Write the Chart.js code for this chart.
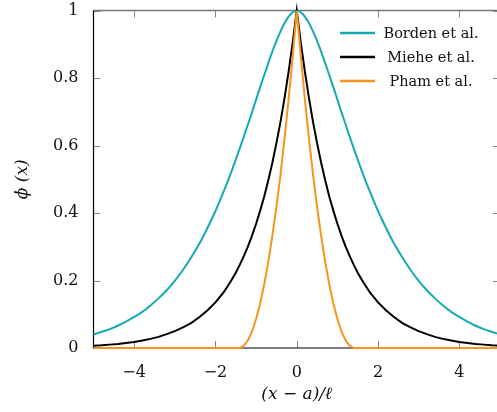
<!DOCTYPE html>
<html>
<head>
<meta charset="utf-8">
<script src="https://cdn.jsdelivr.net/npm/chart.js@4.4.1/dist/chart.umd.min.js"></script>
<style>
  html, body { margin: 0; padding: 0; overflow: hidden; background: #fff; }
  canvas { display: block; }
</style>
</head>
<body>
<canvas id="phi-chart" width="504" height="412"></canvas>
<script>
// x positions, (x - a)/l: every 0.2 in the tails, every 0.1 in the middle
const xValues = [-5, -4.8, -4.6, -4.4, -4.2, -4, -3.8, -3.6, -3.4, -3.2, -3, -2.8, -2.6, -2.4, -2.2,
  -2, -1.9, -1.8, -1.7, -1.6, -1.5, -1.4, -1.3, -1.2, -1.1, -1, -0.9, -0.8, -0.7, -0.6, -0.5, -0.4, -0.3, -0.2, -0.1,
  0,
  0.1, 0.2, 0.3, 0.4, 0.5, 0.6, 0.7, 0.8, 0.9, 1, 1.1, 1.2, 1.3, 1.4, 1.5, 1.6, 1.7, 1.8, 1.9, 2,
  2.2, 2.4, 2.6, 2.8, 3, 3.2, 3.4, 3.6, 3.8, 4, 4.2, 4.4, 4.6, 4.8, 5];

const bordenValues = [0.040, 0.048, 0.056, 0.066, 0.078, 0.092, 0.107, 0.126, 0.147, 0.171, 0.199, 0.231, 0.268, 0.308, 0.355,
  0.406, 0.434, 0.463, 0.493, 0.525, 0.558, 0.592, 0.627, 0.663, 0.699, 0.736, 0.773, 0.809, 0.844, 0.878, 0.910, 0.938, 0.963, 0.982, 0.995,
  1,
  0.995, 0.982, 0.963, 0.938, 0.910, 0.878, 0.844, 0.809, 0.773, 0.736, 0.699, 0.663, 0.627, 0.592, 0.558, 0.525, 0.493, 0.463, 0.434, 0.406,
  0.355, 0.308, 0.268, 0.231, 0.199, 0.171, 0.147, 0.126, 0.107, 0.092, 0.078, 0.066, 0.056, 0.048, 0.040];

const mieheValues = [0.007, 0.008, 0.010, 0.012, 0.015, 0.018, 0.022, 0.027, 0.033, 0.041, 0.050, 0.061, 0.074, 0.091, 0.111,
  0.135, 0.150, 0.165, 0.183, 0.202, 0.223, 0.247, 0.273, 0.301, 0.333, 0.368, 0.407, 0.449, 0.497, 0.549, 0.607, 0.670, 0.741, 0.819, 0.905,
  1,
  0.905, 0.819, 0.741, 0.670, 0.607, 0.549, 0.497, 0.449, 0.407, 0.368, 0.333, 0.301, 0.273, 0.247, 0.223, 0.202, 0.183, 0.165, 0.150, 0.135,
  0.111, 0.091, 0.074, 0.061, 0.050, 0.041, 0.033, 0.027, 0.022, 0.018, 0.015, 0.012, 0.010, 0.008, 0.007];

const phamValues = [0, 0, 0, 0, 0, 0, 0, 0, 0, 0, 0, 0, 0, 0, 0,
  0, 0, 0, 0, 0, 0, 0, 0.007, 0.023, 0.049, 0.086, 0.132, 0.189, 0.255, 0.332, 0.418, 0.514, 0.621, 0.737, 0.864,
  1,
  0.864, 0.737, 0.621, 0.514, 0.418, 0.332, 0.255, 0.189, 0.132, 0.086, 0.049, 0.023, 0.007, 0, 0, 0, 0, 0, 0, 0,
  0, 0, 0, 0, 0, 0, 0, 0, 0, 0, 0, 0, 0, 0, 0];

const seriesLabels = ['Borden et al.', 'Miehe et al.', 'Pham et al.'];
const xTicks = [-4, -2, 0, 2, 4];
const yTicks = [0, 0.2, 0.4, 0.6, 0.8, 1];

const CYAN = 'rgb(20, 170, 178)';
const BLACK = '#000';
const ORANGE = 'rgb(247, 148, 30)';
const SERIF = '"DejaVu Serif", serif';

function toPoints(values) {
    return values.map((y, i) => ({ x: xValues[i], y: y }));
}

// frame + inward ticks like pgfplots, drawn under the curves
const framePlugin = {
    id: 'frame',
    beforeDatasetsDraw(chart) {
        const { ctx, chartArea: a, scales } = chart;
        const tick = 7;
        ctx.save();
        ctx.strokeStyle = '#888';
        ctx.lineWidth = 1;
        ctx.beginPath();
        xTicks.forEach(v => {
            const px = Math.round(scales.x.getPixelForValue(v)) + 0.5;
            ctx.moveTo(px, a.bottom); ctx.lineTo(px, a.bottom - tick);
            ctx.moveTo(px, a.top); ctx.lineTo(px, a.top + tick);
        });
        yTicks.forEach(v => {
            const py = Math.round(scales.y.getPixelForValue(v)) + 0.5;
            ctx.moveTo(a.left, py); ctx.lineTo(a.left + tick, py);
            ctx.moveTo(a.right, py); ctx.lineTo(a.right - tick, py);
        });
        ctx.stroke();
        // top and right edges
        ctx.strokeStyle = '#777';
        ctx.lineWidth = 1.3;
        ctx.beginPath();
        ctx.moveTo(a.left, a.top); ctx.lineTo(a.right, a.top); ctx.lineTo(a.right, a.bottom);
        ctx.stroke();
        // left and bottom axes
        ctx.strokeStyle = '#000';
        ctx.lineWidth = 1.2;
        ctx.beginPath();
        ctx.moveTo(a.left, a.top); ctx.lineTo(a.left, a.bottom); ctx.lineTo(a.right, a.bottom);
        ctx.stroke();
        ctx.restore();
    }
};

// legend inside the plot, top right, no box
const legendPlugin = {
    id: 'insideLegend',
    afterDraw(chart) {
        const { ctx, chartArea: a } = chart;
        ctx.save();
        ctx.font = '14.5px ' + SERIF;
        ctx.textAlign = 'center';
        ctx.textBaseline = 'middle';
        chart.data.datasets.forEach((ds, i) => {
            const y = a.top + 22.5 + i * 24;
            ctx.strokeStyle = ds.borderColor;
            ctx.lineWidth = 2.5;
            ctx.beginPath();
            ctx.moveTo(a.right - 160, y);
            ctx.lineTo(a.right - 125, y);
            ctx.stroke();
            ctx.fillStyle = '#111';
            ctx.fillText(ds.label, a.right - 69, y + 1);
        });
        ctx.restore();
    }
};

new Chart(document.getElementById('phi-chart').getContext('2d'), {
    type: 'line',
    data: {
        datasets: [
            { label: seriesLabels[0], data: toPoints(bordenValues), borderColor: CYAN, order: 3,
              cubicInterpolationMode: 'monotone' },
            { label: seriesLabels[1], data: toPoints(mieheValues), borderColor: BLACK, order: 2 },
            { label: seriesLabels[2], data: toPoints(phamValues), borderColor: ORANGE, order: 1 }
        ]
    },
    options: {
        responsive: false,
        animation: false,
        devicePixelRatio: 1,
        layout: { padding: { top: 10.5, right: 4, left: 0, bottom: 0 } },
        elements: {
            point: { radius: 0 },
            line: { borderWidth: 2, tension: 0, fill: false }
        },
        datasets: { line: { clip: false } },
        plugins: {
            legend: { display: false },
            tooltip: { enabled: false }
        },
        scales: {
            x: {
                type: 'linear',
                min: -5,
                max: 5,
                afterBuildTicks: scale => { scale.ticks = xTicks.map(v => ({ value: v })); },
                afterFit: scale => {
                    scale.height = 64;
                    scale.paddingLeft = 0;
                    scale.paddingRight = 0;
                },
                grid: { display: false },
                border: { display: false },
                ticks: {
                    padding: 7,
                    color: '#111',
                    font: { family: SERIF, size: 16 },
                    callback: v => String(v).replace('-', '\u2212')
                },
                title: {
                    display: true,
                    text: '(x \u2212 a)/\u2113',
                    color: '#111',
                    font: { family: SERIF, size: 17, style: 'italic' },
                    padding: { top: 0, bottom: 7 }
                }
            },
            y: {
                min: 0,
                max: 1,
                afterBuildTicks: scale => { scale.ticks = yTicks.map(v => ({ value: v })); },
                afterFit: scale => {
                    scale.width = 93.5;
                    scale.paddingTop = 0;
                    scale.paddingBottom = 0;
                },
                grid: { display: false },
                border: { display: false },
                ticks: {
                    padding: 7,
                    color: '#111',
                    font: { family: SERIF, size: 16 },
                    callback: v => String(v)
                },
                title: {
                    display: true,
                    text: '\u03d5 (x)',
                    color: '#111',
                    font: { family: SERIF, size: 17, style: 'italic' },
                    padding: { top: 12, bottom: 0 }
                }
            }
        }
    },
    plugins: [framePlugin, legendPlugin]
});
</script>
</body>
</html>
